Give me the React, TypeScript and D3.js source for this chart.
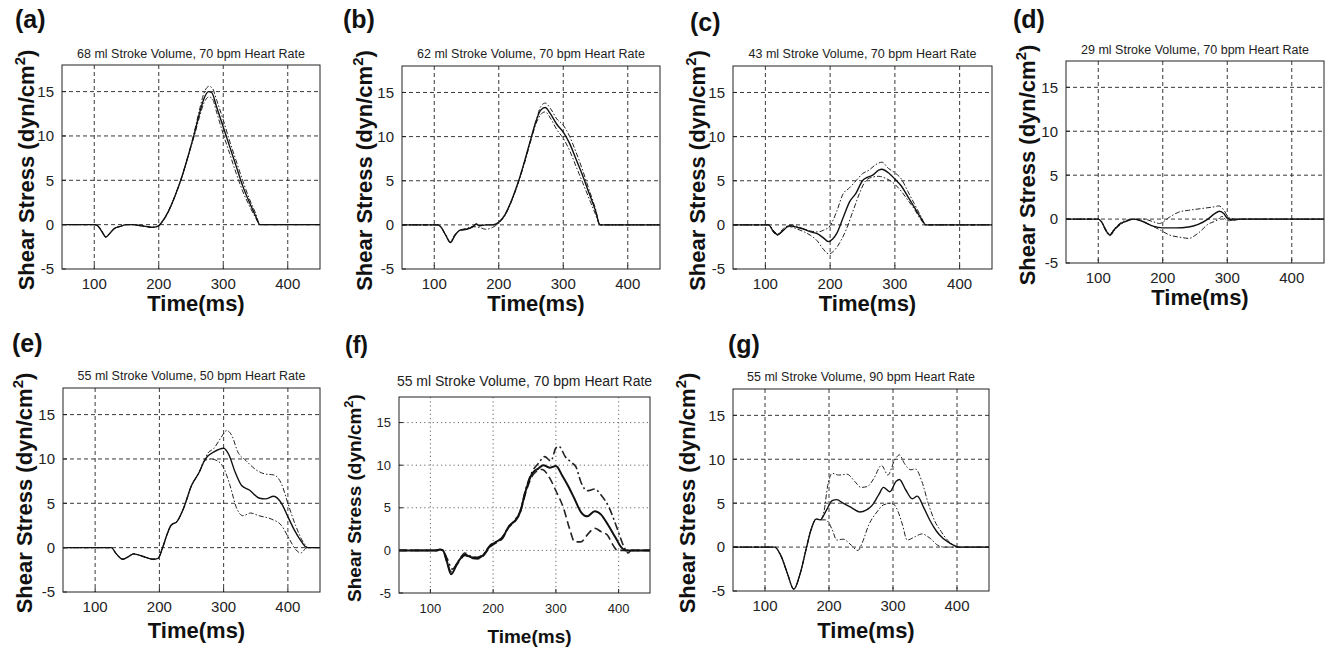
import React from 'react';
import * as d3 from 'd3';

// time (ms), shear stress (dyn/cm^2)
const xTicks = [100, 200, 300, 400];
const yTicks = [-5, 0, 5, 10, 15];
const gridY = [0, 5, 10, 15];

const panelIds = ['(a)', '(b)', '(c)', '(d)', '(e)', '(f)', '(g)'];
const panelTitles = [
  '68 ml Stroke Volume, 70 bpm Heart Rate',
  '62 ml Stroke Volume, 70 bpm Heart Rate',
  '43 ml Stroke Volume, 70 bpm Heart Rate',
  '29 ml Stroke Volume, 70 bpm Heart Rate',
  '55 ml Stroke Volume, 50 bpm Heart Rate',
  '55 ml Stroke Volume, 70 bpm Heart Rate',
  '55 ml Stroke Volume, 90 bpm Heart Rate',
];

const aPre = [[50, 0], [100, 0], [105, -0.1], [112, -0.8], [118, -1.4], [125, -0.9], [132, -0.4], [140, -0.2], [150, 0], [160, 0], [170, -0.1], [180, -0.2], [190, -0.3], [198, -0.2], [205, 0.3], [215, 1.5], [225, 3.2], [235, 5.2], [245, 7.6]];
const aMean = [...aPre, [255, 10.2], [263, 12.5], [270, 14.2], [277, 15.0], [282, 14.9], [290, 13.2], [300, 11.0], [310, 8.8], [320, 6.6], [330, 4.4], [340, 2.6], [350, 1.0], [357, 0], [450, 0]];
const aUpper = [...aPre, [255, 10.4], [263, 12.9], [270, 14.8], [278, 15.6], [283, 15.4], [290, 14.0], [300, 11.8], [310, 9.4], [320, 7.2], [330, 5.0], [340, 3.0], [350, 1.3], [357, 0], [450, 0]];
const aLower = [...aPre, [255, 10.0], [263, 12.1], [270, 13.7], [278, 14.4], [283, 14.2], [290, 12.6], [300, 10.2], [310, 8.0], [320, 5.8], [330, 3.8], [340, 2.2], [350, 0.8], [357, 0], [450, 0]];

const bPre = [[50, 0], [105, 0], [110, -0.2], [118, -1.2], [125, -2.0], [132, -1.2], [140, -0.6], [150, -0.5], [160, -0.2], [165, 0.1], [170, -0.1], [180, 0], [190, 0], [200, 0.3], [210, 1.2], [220, 2.8], [230, 4.8], [240, 7.2], [250, 9.8], [258, 11.8]];
const bMean = [...bPre, [265, 13.0], [272, 13.3], [280, 12.6], [290, 11.4], [300, 10.5], [310, 9.2], [320, 7.4], [330, 5.6], [340, 3.6], [350, 1.6], [357, 0], [450, 0]];
const bUpper = [...bPre, [265, 13.4], [272, 13.8], [280, 13.2], [290, 12.0], [300, 11.3], [310, 10.0], [320, 8.2], [330, 6.2], [340, 4.0], [350, 1.8], [357, 0], [450, 0]];
const bLower = [[50, 0], [105, 0], [110, -0.2], [118, -1.2], [125, -1.9], [132, -1.1], [140, -0.6], [150, -0.4], [160, -0.2], [170, -0.3], [180, -0.5], [190, -0.3], [200, 0.2], [210, 1.1], [220, 2.7], [230, 4.7], [240, 7.0], [250, 9.6], [258, 11.5], [265, 12.5], [272, 12.8], [280, 12.1], [290, 10.8], [300, 9.8], [310, 8.4], [320, 6.6], [330, 4.8], [340, 3.0], [350, 1.2], [357, 0], [450, 0]];

const cMean = [[50, 0], [105, 0], [112, -0.7], [119, -1.1], [128, -0.6], [137, -0.1], [150, -0.3], [160, -0.5], [170, -0.8], [180, -1.0], [190, -1.5], [197, -1.9], [204, -1.6], [210, -1.0], [220, 0.8], [230, 2.6], [240, 3.6], [250, 5.0], [258, 5.4], [265, 5.6], [275, 6.2], [280, 6.3], [290, 5.9], [300, 5.2], [310, 4.4], [320, 3.2], [330, 2.0], [340, 0.8], [348, 0], [450, 0]];
const cUpper = [[50, 0], [105, 0], [112, -0.6], [119, -1.0], [128, -0.4], [140, 0], [150, -0.2], [160, -0.5], [170, -0.7], [180, -0.8], [190, -0.6], [200, -0.1], [210, 1.5], [220, 3.5], [230, 4.2], [240, 5.0], [250, 5.8], [260, 6.2], [270, 6.8], [280, 7.1], [290, 6.4], [300, 5.9], [310, 5.2], [320, 3.8], [330, 2.4], [340, 1.0], [348, 0], [450, 0]];
const cLower = [[50, 0], [105, 0], [112, -0.8], [119, -1.2], [128, -0.6], [137, -0.2], [150, -0.5], [160, -0.8], [170, -1.2], [180, -1.8], [190, -2.8], [198, -3.3], [205, -3.0], [215, -2.0], [225, -0.5], [235, 1.5], [245, 3.5], [255, 5.0], [265, 5.4], [275, 5.5], [285, 5.3], [300, 4.6], [310, 3.8], [320, 2.8], [330, 1.8], [340, 0.6], [348, 0], [450, 0]];

const dMean = [[50, 0], [100, 0], [105, -0.3], [112, -1.3], [118, -1.8], [126, -1.1], [135, -0.5], [145, -0.2], [155, 0], [170, -0.3], [185, -0.8], [200, -1.0], [220, -1.0], [240, -0.9], [255, -0.6], [270, 0], [280, 0.6], [288, 0.9], [295, 0.6], [300, 0.1], [310, -0.1], [320, 0], [450, 0]];
const dUpper = [[50, 0], [100, 0], [105, -0.3], [112, -1.2], [118, -1.7], [126, -1.0], [135, -0.4], [145, -0.1], [155, 0], [170, 0], [185, -0.3], [195, -0.5], [210, 0.2], [225, 0.8], [240, 1.0], [260, 1.2], [280, 1.4], [287, 1.5], [295, 1.0], [302, 0.2], [315, 0], [450, 0]];
const dLower = [[50, 0], [100, 0], [105, -0.3], [112, -1.4], [118, -1.9], [126, -1.2], [135, -0.6], [145, -0.2], [155, 0], [175, -0.5], [195, -1.2], [210, -1.8], [230, -2.1], [240, -2.2], [255, -1.6], [270, -0.6], [285, -0.1], [292, 0.3], [300, -0.2], [310, -0.1], [320, 0], [450, 0]];

const ePre = [[50, 0], [125, 0], [133, -0.7], [143, -1.3], [152, -1.0], [160, -0.7], [175, -1.0], [190, -1.3], [198, -1.2], [205, 0], [212, 1.5], [218, 2.5], [228, 3.0], [238, 4.5], [250, 7.0], [262, 8.5], [270, 9.8]];
const eMean = [...ePre, [275, 10.3], [285, 10.8], [300, 11.2], [308, 10.5], [318, 8.5], [328, 7.0], [340, 6.5], [355, 5.6], [365, 5.5], [378, 5.8], [390, 5.0], [400, 3.5], [410, 2.0], [420, 0.8], [430, 0], [450, 0]];
const eUpper = [...ePre, [275, 10.6], [285, 11.2], [295, 12.3], [305, 13.2], [313, 12.6], [322, 10.8], [335, 9.8], [350, 8.8], [365, 8.3], [378, 8.2], [390, 7.2], [400, 5.0], [412, 2.5], [425, 0.5], [432, 0], [450, 0]];
const eLower = [...ePre, [280, 10.0], [290, 9.8], [300, 9.0], [310, 7.0], [320, 4.5], [330, 3.6], [342, 3.9], [355, 3.6], [375, 3.2], [390, 2.5], [402, 1.0], [412, -0.2], [420, -0.6], [430, 0], [450, 0]];

const fPre = [[50, 0], [110, 0], [115, 0.1], [120, 0], [126, -1.2], [133, -2.8], [143, -1.5], [155, -0.5], [165, -0.8], [175, -0.9], [185, -0.5], [195, 0.5], [205, 1.0], [215, 1.5], [225, 2.8], [235, 3.5], [243, 4.5], [252, 7.0], [262, 9.0]];
const fMean = [...fPre, [272, 9.6], [280, 10.0], [290, 9.7], [300, 9.9], [310, 8.8], [320, 7.5], [330, 6.0], [340, 4.5], [350, 4.0], [362, 4.6], [372, 4.2], [383, 3.0], [395, 1.5], [405, 0.3], [412, 0], [450, 0]];
const fUpper = [[50, 0], [110, 0], [115, 0.1], [120, 0], [127, -1.0], [135, -2.2], [145, -1.2], [155, -0.3], [165, -0.7], [175, -0.8], [185, -0.4], [195, 0.6], [205, 1.0], [215, 1.6], [225, 2.8], [235, 3.6], [243, 4.6], [252, 7.2], [262, 9.2], [272, 10.2], [282, 11.0], [292, 10.5], [300, 12.0], [305, 12.2], [315, 11.0], [325, 10.3], [332, 9.8], [340, 8.0], [350, 7.0], [362, 7.2], [372, 6.5], [385, 5.0], [398, 2.5], [408, 0.5], [415, -0.3], [420, 0], [450, 0]];
const fLower = [[50, 0], [110, 0], [115, 0.1], [120, 0], [126, -1.3], [133, -2.5], [143, -1.6], [155, -0.6], [165, -0.9], [175, -1.0], [185, -0.6], [195, 0.4], [205, 0.9], [215, 1.4], [225, 2.7], [235, 3.4], [243, 4.4], [252, 6.8], [265, 9.0], [278, 9.5], [290, 8.5], [300, 7.0], [312, 5.0], [322, 2.5], [330, 1.0], [340, 1.0], [352, 2.0], [362, 2.6], [372, 2.2], [382, 1.8], [392, 0.5], [398, 0], [450, 0]];

const gPre = [[50, 0], [115, 0], [125, -1.0], [135, -3.0], [145, -4.8], [155, -3.0], [165, 0], [172, 2.0], [180, 3.2], [186, 3.1]];
const gMean = [...gPre, [196, 4.2], [205, 5.3], [212, 5.4], [222, 5.0], [235, 4.5], [248, 4.0], [258, 4.2], [268, 4.8], [278, 6.0], [285, 6.8], [295, 6.3], [305, 7.5], [310, 7.7], [320, 6.5], [330, 5.5], [338, 5.8], [348, 4.5], [358, 3.0], [368, 1.8], [378, 1.0], [390, 0.4], [398, 0.1], [402, 0], [450, 0]];
const gUpper = [...gPre, [192, 4.0], [198, 7.0], [205, 8.4], [215, 8.2], [228, 8.3], [240, 7.5], [250, 6.8], [260, 6.9], [270, 7.8], [282, 9.3], [292, 8.2], [302, 9.8], [310, 10.5], [318, 9.5], [328, 8.8], [335, 8.9], [345, 7.5], [355, 5.0], [365, 3.0], [375, 1.8], [385, 0.8], [395, 0.2], [400, 0], [450, 0]];
const gLower = [...gPre, [195, 3.1], [205, 2.0], [212, 0.8], [222, 0.9], [235, 0.2], [245, -0.4], [252, 0.5], [262, 2.5], [275, 4.0], [285, 4.8], [298, 5.0], [305, 4.5], [315, 2.5], [322, 0.8], [335, 1.2], [345, 1.5], [358, 1.0], [370, 0.2], [380, 0], [450, 0]];

const panelSeries = [
  [aMean, aUpper, aLower],
  [bMean, bUpper, bLower],
  [cMean, cUpper, cLower],
  [dMean, dUpper, dLower],
  [eMean, eUpper, eLower],
  [fMean, fUpper, fLower],
  [gMean, gUpper, gLower],
];

// layout: plot box [left, right, top, bottom], label pos, y-label x, title baseline, x-label baseline
const layout = [
  { box: [62, 320, 65, 269], id: [15, 28], yl: 34, ty: 58, xl: 311 },
  { box: [402, 660, 66, 269], id: [343, 28], yl: 372, ty: 58, xl: 311 },
  { box: [733, 992, 66, 269], id: [690, 31], yl: 705, ty: 58, xl: 311 },
  { box: [1066, 1324, 61, 263], id: [1013, 28], yl: 1035, ty: 54, xl: 305 },
  { box: [63, 320, 388, 592], id: [12, 352], yl: 32, ty: 380, xl: 638 },
  { box: [399, 650, 397, 593], id: [345, 353], yl: 361, ty: 386, xl: 643, alt: true },
  { box: [733, 989, 389, 591], id: [728, 353], yl: 695, ty: 381, xl: 638 },
];

const font = 'Liberation Sans, Arial, Helvetica, sans-serif';

function Panel({ idx }: { idx: number }) {
  const L = layout[idx];
  const [x0, x1, y0, y1] = L.box;
  const alt = !!L.alt;
  const x = d3.scaleLinear().domain([50, 450]).range([x0, x1]);
  const y = d3.scaleLinear().domain([-5, 18]).range([y1, y0]);
  const line = d3.line<number[]>()
    .x(d => x(d[0]))
    .y(d => y(d[1]))
    .curve(d3.curveMonotoneX);
  const [mean, upper, lower] = panelSeries[idx];
  const gridDash = alt ? '1.2,3' : '4,3';
  const gridColor = alt ? '#555' : '#222';
  const tickSize = alt ? 13 : 15;
  const cx = (x0 + x1) / 2;
  const cy = (y0 + y1) / 2;
  return (
    <g>
      <text x={L.id[0]} y={L.id[1]} fontSize={alt ? 23 : 25} fontWeight="bold" fontFamily={font} fill="#111">{panelIds[idx]}</text>
      <text x={cx} y={L.ty} fontSize={alt ? 14 : 12.5} textAnchor="middle" fontFamily={font} fill="#222">{panelTitles[idx]}</text>
      {/* grid */}
      {xTicks.map(t => (
        <line key={'gx' + t} x1={x(t)} x2={x(t)} y1={y0} y2={y1} stroke={gridColor} strokeWidth={0.9} strokeDasharray={gridDash} />
      ))}
      {gridY.map(v => (
        <line key={'gy' + v} x1={x0} x2={x1} y1={y(v)} y2={y(v)} stroke={gridColor} strokeWidth={0.9} strokeDasharray={gridDash} />
      ))}
      {/* curves */}
      <path d={line(upper as number[][]) || ''} fill="none" stroke="#222" strokeWidth={alt ? 1.6 : 1} strokeDasharray={alt ? '8,3,2,3' : '5,2,1.5,2'} />
      <path d={line(lower as number[][]) || ''} fill="none" stroke="#222" strokeWidth={alt ? 1.6 : 1} strokeDasharray={alt ? '8,4' : '5,2,1.5,2'} />
      <path d={line(mean as number[][]) || ''} fill="none" stroke="#111" strokeWidth={alt ? 2 : 1.4} />
      {/* box */}
      <rect x={x0} y={y0} width={x1 - x0} height={y1 - y0} fill="none" stroke="#222" strokeWidth={1} />
      {/* ticks */}
      {xTicks.map(t => (
        <g key={'tx' + t}>
          <line x1={x(t)} x2={x(t)} y1={y1} y2={y1 - 4} stroke="#222" />
          <text x={x(t)} y={y1 + 20} fontSize={tickSize} textAnchor="middle" fontFamily={font} fill="#222">{t}</text>
        </g>
      ))}
      {yTicks.map(v => (
        <g key={'ty' + v}>
          <line x1={x0} x2={x0 + 4} y1={y(v)} y2={y(v)} stroke="#222" />
          <text x={x0 - 8} y={y(v)} dy="0.36em" fontSize={tickSize} textAnchor="end" fontFamily={font} fill="#222">{v}</text>
        </g>
      ))}
      {/* axis labels */}
      <text x={cx + 5} y={L.xl} fontSize={alt ? 19 : 22} fontWeight="bold" textAnchor="middle" fontFamily={font} fill="#111">Time(ms)</text>
      <text transform={`translate(${L.yl},${cy + 3}) rotate(-90)`} fontSize={alt ? 19 : 22} fontWeight="bold" textAnchor="middle" fontFamily={font} fill="#111">
        Shear Stress (dyn/cm<tspan dy={alt ? -8 : -9} fontSize={alt ? 13 : 15}>2</tspan><tspan dy={alt ? 8 : 9}>)</tspan>
      </text>
    </g>
  );
}

export default function App() {
  return (
    <svg width={1336} height={651} style={{ position: 'absolute', left: 0, top: 0, background: '#fff' }}>
      {panelIds.map((_, i) => <Panel key={i} idx={i} />)}
    </svg>
  );
}
